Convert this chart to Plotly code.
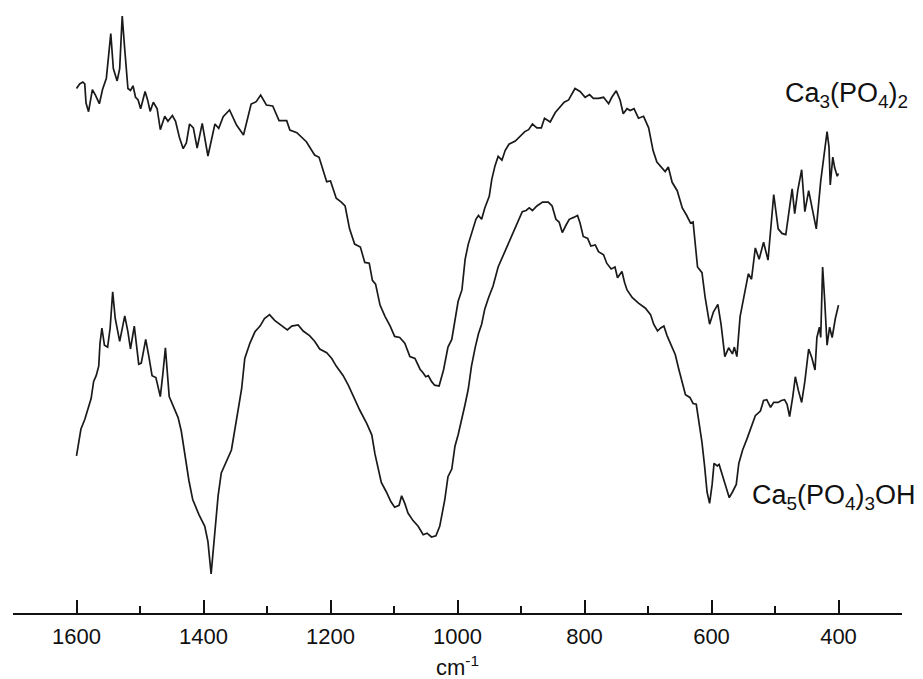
import plotly.graph_objects as go

# Wavenumbers (cm^-1) and transmittance (arbitrary units)
wn_tcp = [1600, 1595, 1590, 1587, 1585, 1581, 1575, 1570, 1564, 1559, 1553, 1550, 1546, 1542, 1536,
          1532, 1528, 1524, 1519, 1515, 1511, 1507, 1503, 1499, 1492, 1488, 1484, 1479, 1473, 1468,
          1461, 1456, 1449, 1444, 1438, 1432, 1427, 1422, 1416, 1410, 1402, 1393, 1382, 1376, 1369,
          1359, 1348, 1337, 1325, 1317, 1310, 1301, 1291, 1281, 1269, 1264, 1253, 1238, 1225, 1218,
          1206, 1200, 1191, 1183, 1177, 1170, 1162, 1153, 1146, 1139, 1134, 1129, 1122, 1114, 1106,
          1099, 1091, 1083, 1075, 1067, 1059, 1054, 1050, 1046, 1041, 1036, 1029, 1022, 1015, 1009,
          1004, 999, 993, 988, 983, 978, 971, 967, 962, 957, 950, 946, 941, 936, 930,
          925, 919, 909, 901, 894, 888, 882, 875, 868, 863, 854, 846, 838, 832, 825,
          820, 815, 807, 799, 792, 786, 778, 770, 762, 757, 750, 744, 739, 733, 728,
          722, 715, 707, 699, 692, 686, 678, 673, 668, 662, 654, 646, 639, 633, 629,
          626, 622, 615, 610, 603, 597, 590, 585, 579, 573, 567, 564, 560, 555, 548,
          542, 537, 531, 525, 518, 511, 502, 495, 489, 483, 477, 473, 469, 464, 458,
          453, 447, 442, 435, 428, 423, 418, 415, 413, 409, 406, 402, 400]
t_tcp = [524.5, 529.1, 531.0, 529.1, 510.0, 501.3, 523.4, 517.7, 509.3, 523.4, 534.8, 555.8, 579.4, 544.4, 532.1,
         544.4, 597.0, 563.4, 524.5, 522.6, 527.2, 515.7, 513.1, 504.3, 521.5, 513.1, 501.6, 510.8, 504.3, 483.3,
         496.7, 491.7, 497.4, 491.7, 475.7, 464.3, 470.0, 489.0, 485.2, 465.0, 489.7, 457.0, 489.0, 484.7, 496.3,
         503.0, 488.0, 478.0, 509.0, 511.3, 518.0, 508.0, 507.0, 492.3, 492.3, 483.0, 480.3, 471.3, 458.0, 455.7,
         431.3, 432.0, 414.7, 410.9, 407.0, 384.2, 368.9, 365.9, 350.6, 349.8, 332.7, 328.9, 307.9, 296.4, 286.9,
         276.6, 275.5, 269.7, 256.4, 254.5, 243.8, 240.0, 236.2, 237.3, 231.6, 227.8, 227.0, 243.0, 265.9, 273.6,
         292.6, 311.7, 323.1, 353.7, 368.9, 380.4, 393.7, 397.5, 393.7, 405.1, 416.6, 433.7, 447.1, 456.6, 452.8,
         462.4, 468.8, 471.9, 476.5, 481.4, 483.3, 489.0, 485.2, 485.2, 494.8, 491.0, 500.5, 506.2, 510.8, 513.1,
         519.6, 524.5, 521.5, 515.7, 518.4, 514.6, 514.6, 515.7, 509.3, 515.7, 522.2, 513.1, 499.3, 504.3, 502.4,
         504.3, 494.8, 496.7, 485.2, 462.4, 450.9, 445.2, 441.4, 446.0, 430.7, 422.3, 405.1, 397.5, 389.9, 391.0,
         370.8, 346.0, 340.3, 315.5, 288.8, 301.0, 308.7, 288.8, 256.4, 265.2, 259.1, 265.9, 256.4, 296.4, 319.3,
         339.2, 333.8, 365.1, 353.7, 370.8, 352.9, 418.5, 384.2, 379.6, 378.4, 405.1, 424.2, 399.4, 423.1, 443.3,
         401.3, 422.3, 405.1, 384.2, 431.8, 456.6, 481.4, 466.2, 428.0, 455.9, 445.2, 436.8, 439.5]

wn_hap = [1600, 1596, 1593, 1587, 1582, 1577, 1573, 1569, 1565, 1563, 1560, 1556, 1551, 1547, 1543,
          1539, 1532, 1524, 1519, 1515, 1509, 1502, 1498, 1491, 1486, 1481, 1475, 1468, 1464, 1460,
          1454, 1448, 1440, 1435, 1430, 1423, 1417, 1407, 1398, 1393, 1388, 1382, 1377, 1372, 1364,
          1356, 1348, 1340, 1335, 1327, 1319, 1311, 1304, 1296, 1288, 1277, 1268, 1261, 1251, 1243,
          1233, 1225, 1217, 1206, 1198, 1191, 1180, 1172, 1164, 1154, 1143, 1135, 1130, 1125, 1120,
          1112, 1105, 1099, 1092, 1088, 1083, 1078, 1070, 1062, 1054, 1048, 1041, 1034, 1028, 1020,
          1015, 1009, 1004, 999, 993, 988, 983, 978, 972, 967, 962, 957, 951, 944, 936,
          928, 920, 912, 904, 898, 892, 887, 882, 875, 866, 857, 851, 845, 840, 835,
          829, 824, 817, 811, 807, 802, 795, 790, 783, 778, 770, 765, 758, 752, 748,
          741, 737, 733, 725, 715, 704, 696, 691, 685, 680, 675, 670, 665, 657, 652,
          646, 641, 634, 629, 624, 620, 615, 611, 607, 603, 599, 596, 591, 588, 582,
          577, 572, 567, 561, 557, 551, 544, 537, 531, 523, 518, 513, 507, 502, 495,
          490, 485, 481, 477, 472, 468, 463, 458, 453, 447, 442, 437, 434, 430, 428,
          425, 422, 418, 414, 410, 405, 400]
t_hap = [157.2, 174.4, 184.0, 193.5, 203.0, 214.4, 231.6, 237.3, 246.9, 269.7, 285.0, 267.8, 265.9, 285.0, 321.2,
         294.5, 271.7, 297.2, 281.2, 264.0, 286.9, 248.8, 249.9, 273.6, 256.4, 237.3, 235.4, 216.4, 239.2, 265.2,
         216.4, 206.8, 195.4, 182.0, 159.1, 132.5, 113.4, 98.1, 86.7, 71.4, 39.0, 79.0, 117.2, 140.1, 151.5,
         163.0, 193.5, 224.0, 254.5, 269.7, 281.2, 286.9, 294.5, 298.4, 292.6, 286.9, 283.1, 286.9, 288.0, 282.0,
         277.4, 271.7, 264.0, 260.2, 254.5, 246.9, 237.3, 227.8, 216.4, 203.0, 189.7, 178.2, 159.1, 143.9, 130.5,
         121.0, 111.5, 105.8, 107.7, 117.2, 109.6, 100.0, 92.4, 86.7, 78.3, 79.8, 76.0, 77.1, 86.7, 113.4,
         136.3, 143.9, 166.8, 178.2, 193.5, 208.7, 224.0, 246.9, 265.9, 279.3, 288.8, 304.1, 315.5, 327.0, 346.0,
         357.5, 368.9, 380.4, 391.8, 401.3, 402.5, 405.1, 402.5, 407.0, 410.9, 410.9, 407.0, 393.7, 391.0, 380.4,
         388.0, 393.7, 395.6, 397.5, 389.9, 376.5, 374.6, 367.0, 368.1, 361.3, 358.2, 349.8, 344.1, 346.0, 335.3,
         341.5, 330.8, 323.1, 315.5, 309.8, 304.8, 298.4, 288.8, 282.0, 285.0, 286.9, 277.4, 269.7, 258.3, 245.0,
         229.7, 218.3, 215.6, 209.5, 208.7, 193.5, 170.6, 147.7, 121.0, 109.6, 128.6, 149.6, 147.0, 148.5, 136.3,
         124.8, 115.3, 121.0, 128.6, 149.6, 163.0, 174.4, 185.8, 197.3, 201.9, 212.5, 213.3, 205.7, 210.6, 210.6,
         212.5, 213.3, 208.7, 196.5, 216.4, 236.2, 222.1, 210.6, 231.6, 264.0, 255.3, 243.0, 275.5, 285.8, 275.5,
         346.0, 315.5, 267.8, 285.8, 275.5, 294.5, 307.9]

x_major_ticks = [1600, 1400, 1200, 1000, 800, 600, 400]
x_tick_labels = ["1600", "1400", "1200", "1000", "800", "600", "400"]

line_style = dict(color="#1a1a1a", width=1.7)

fig = go.Figure()
fig.add_trace(go.Scatter(x=wn_tcp, y=t_tcp, mode="lines", line=line_style,
                         name="Ca3(PO4)2", hoverinfo="x+y"))
fig.add_trace(go.Scatter(x=wn_hap, y=t_hap, mode="lines", line=line_style,
                         name="Ca5(PO4)3OH", hoverinfo="x+y"))

font_family = "Arial, Liberation Sans, sans-serif"

fig.add_annotation(x=488, y=518, xref="x", yref="y", xanchor="left", yanchor="middle",
                   text="Ca<sub>3</sub>(PO<sub>4</sub>)<sub>2</sub>", showarrow=False,
                   font=dict(family=font_family, size=27, color="#111"))
fig.add_annotation(x=539, y=116, xref="x", yref="y", xanchor="left", yanchor="middle",
                   text="Ca<sub>5</sub>(PO<sub>4</sub>)<sub>3</sub>OH", showarrow=False,
                   font=dict(family=font_family, size=27, color="#111"))
# axis title (unit), placed just under the tick labels
fig.add_annotation(x=0.5, y=-0.087, xref="paper", yref="paper", xanchor="center", yanchor="middle",
                   text="cm<sup>-1</sup>", showarrow=False,
                   font=dict(family=font_family, size=22, color="#111"))

fig.update_layout(
    width=923, height=679,
    margin=dict(l=13, r=21, t=0, b=66),
    paper_bgcolor="white", plot_bgcolor="white",
    showlegend=False,
    font=dict(family=font_family, color="#111"),
)
fig.update_xaxes(
    range=[1700, 300],
    tickmode="array", tickvals=x_major_ticks, ticktext=x_tick_labels,
    ticks="inside", ticklen=13, tickwidth=2, tickcolor="#111",
    minor=dict(dtick=100, tick0=300, ticks="inside", ticklen=7, tickwidth=2, tickcolor="#111"),
    showline=True, linewidth=2, linecolor="#111",
    showgrid=False, zeroline=False,
    tickfont=dict(family=font_family, size=22, color="#111"),
    ticklabelstandoff=3,
)
fig.update_yaxes(visible=False, range=[0, 613], showgrid=False, zeroline=False)

fig.write_html("out.html", config={"displayModeBar": False},
               post_script="document.body.style.margin='0px';document.body.style.overflow='hidden';")
